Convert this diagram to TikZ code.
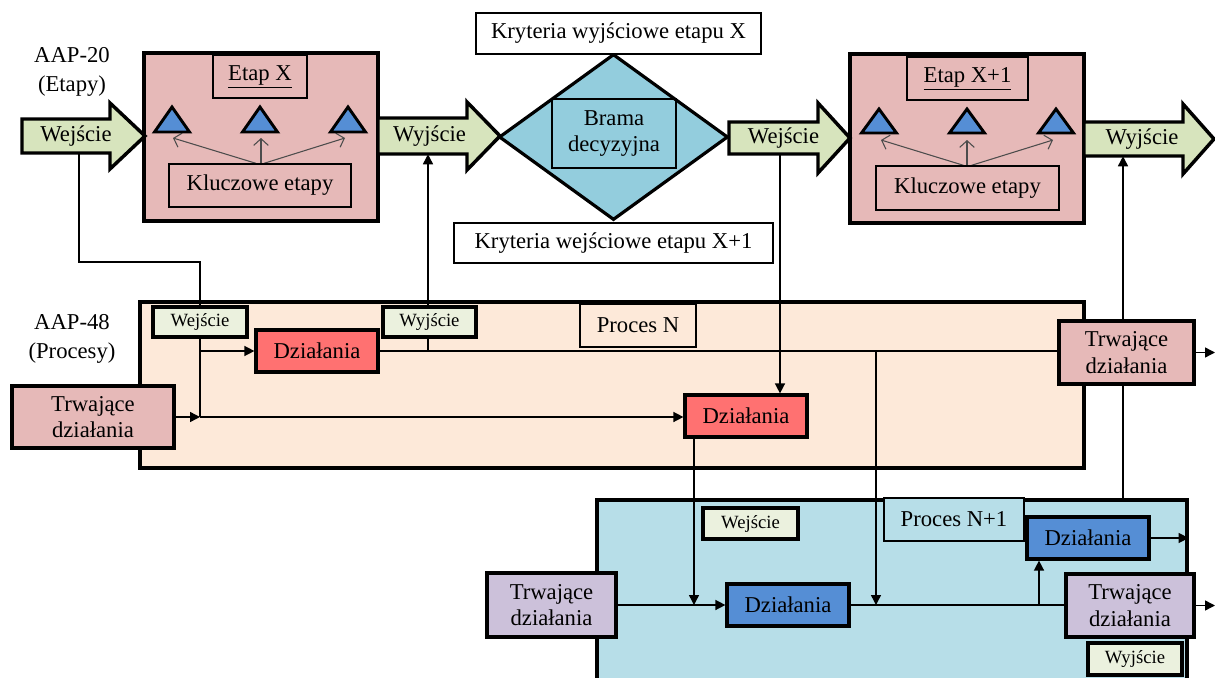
\documentclass[tikz,border=0pt]{standalone}
\usepackage{fontspec}
\setmainfont{Liberation Serif}
\usetikzlibrary{arrows.meta,shapes.geometric}
\pgfdeclarelayer{bg}
\pgfdeclarelayer{mid}
\pgfsetlayers{bg,mid,main}

\definecolor{argreen}{HTML}{D7E4BD}
\definecolor{stagepink}{HTML}{E6B9B8}
\definecolor{keyblue}{HTML}{558ED5}
\definecolor{gatecyan}{HTML}{93CDDD}
\definecolor{procpeach}{HTML}{FDE9D9}
\definecolor{tagcream}{HTML}{EBF1DE}
\definecolor{actred}{HTML}{FF7171}
\definecolor{procblue}{HTML}{B7DEE8}
\definecolor{lilac}{HTML}{CCC1DA}

\newcommand\bigtxt{\fontsize{17pt}{20pt}\selectfont}
\newcommand\smalltxt{\fontsize{14pt}{16pt}\selectfont}
\newcommand\sidetxt{\fontsize{17pt}{21.5pt}\selectfont}

% box given by its corners: style, name, x1, y1, x2, y2, text
\newcommand\bx[7]{\node[#1, minimum width={(#5-#3)*0.75pt}, minimum height={(#6-#4)*0.75pt}] (#2) at ({(#3+#5)/2},{(#4+#6)/2}) {#7};}
% wide block arrow: tail x, head start x, tip x, centre y, body half height, head half height
\newcommand\fatarrow[6]{\draw[fatarr] (#1,#4-#5) -- (#2,#4-#5) -- (#2,#4-#6) -- (#3,#4) -- (#2,#4+#6) -- (#2,#4+#5) -- (#1,#4+#5) -- cycle;}

\tikzset{
  box/.style={draw, line width=2.4pt, inner sep=0pt, align=center, font=\bigtxt},
  thinbox/.style={draw, line width=1pt, inner sep=0pt, align=center, font=\bigtxt},
  tag/.style={box, fill=tagcream, font=\smalltxt},
  fatarr/.style={draw, line width=2.6pt, fill=argreen},
  arrtext/.style={inner sep=0pt, font=\bigtxt},
  keytri/.style={draw, line width=2.2pt, fill=keyblue},
  conn/.style={line width=1.1pt},
  arr/.style={conn, -{Triangle[length=7.5pt,width=7.5pt]}},
  keyarr/.style={draw=black!70, line width=0.8pt, -{Straight Barb[length=5pt,width=11pt]}},
  sidelabel/.style={align=center, font=\sidetxt, inner sep=0pt}
}

\begin{document}
\begin{tikzpicture}[x=0.75pt, y=-0.75pt]
\useasboundingbox (0,0) rectangle (1215,678);

% ---------- containers ----------
\begin{pgfonlayer}{bg}
  \bx{box, fill=stagepink}{stX}{144}{53}{378}{221}{}
  \bx{box, fill=stagepink}{stY}{850}{54}{1084}{223}{}
  \bx{box, fill=procpeach}{prN}{140}{302}{1084}{468}{}
  \bx{box, fill=procblue}{prM}{597}{500}{1187}{720}{}
\end{pgfonlayer}

% ---------- stages (AAP-20) ----------
\node[sidelabel] (aap20) at (72,72) {AAP-20\\(Etapy)};

\fatarrow{22}{110}{145}{136}{17}{33}
\node[arrtext, minimum height=34*0.75pt] (inX) at (76,136) {Wejście};
\fatarrow{378}{467}{500}{136}{18}{34}
\node[arrtext, minimum height=36*0.75pt] (outX) at (429.5,136) {Wyjście};
\fatarrow{729}{818}{850}{138}{16}{35}
\node[arrtext, minimum height=32*0.75pt] (inY) at (783.5,138) {Wejście};
\fatarrow{1084}{1183}{1214}{139}{17}{35}
\node[arrtext, minimum height=34*0.75pt] (outY) at (1142,139) {Wyjście};

\bx{thinbox}{lblX}{213}{55}{307}{98}{\underline{Etap X}}
\bx{thinbox}{keyX}{169}{164}{351}{207}{Kluczowe etapy}
\foreach \c in {172,260,348}{\draw[keytri] (\c,107) -- (\c+17.5,132) -- (\c-17.5,132) -- cycle;}
\coordinate (kx1) at (173,138);
\coordinate (kx2) at (261,138);
\coordinate (kx3) at (345,138);

\bx{thinbox}{lblY}{907}{57}{1028}{100}{\underline{Etap X+1}}
\bx{thinbox}{keyY}{876}{166}{1059}{210}{Kluczowe etapy}
\foreach \c in {879,967,1056}{\draw[keytri] (\c,109) -- (\c+17.5,133) -- (\c-17.5,133) -- cycle;}
\coordinate (ky1) at (881,140);
\coordinate (ky2) at (967,140);
\coordinate (ky3) at (1053,140);

% decision gate
\node[diamond, draw, line width=2.4pt, fill=gatecyan, inner sep=0pt,
      minimum width=229*0.75pt, minimum height=166*0.75pt] (gate) at (613.5,137) {};
\bx{thinbox}{gateLbl}{552}{99}{676}{168}{Brama\\decyzyjna}
\bx{thinbox, fill=white}{exitCrit}{476}{13}{761}{54}{Kryteria wyjściowe etapu X}
\bx{thinbox, fill=white}{entryCrit}{454}{223}{773}{263}{Kryteria wejściowe etapu X+1}

% ---------- process N (AAP-48) ----------
\node[sidelabel] (aap48) at (72,339) {AAP-48\\(Procesy)};
\bx{tag}{inN}{153}{307}{247}{337}{Wejście}
\bx{tag}{outN}{383}{307}{476}{337}{Wyjście}
\bx{box, fill=actred}{actA}{256}{330}{378}{372}{Działania}
\bx{thinbox, fill=procpeach}{lblN}{580}{304}{696}{347}{Proces N}
\bx{box, fill=stagepink}{ongA}{12}{386}{174}{448}{Trwające\\działania}
\bx{box, fill=actred}{actB}{685}{395}{807}{437}{Działania}
\bx{box, fill=stagepink}{ongB}{1059}{321}{1194}{384}{Trwające\\działania}

% ---------- process N+1 ----------
\bx{tag}{inM}{703}{508}{798}{539}{Wejście}
\bx{thinbox, fill=procblue}{lblM}{884}{498}{1024}{541}{Proces N+1}
\bx{box, fill=lilac}{ongC}{487}{573}{616}{637}{Trwające\\działania}
\bx{box, fill=keyblue}{actC}{727}{584}{849}{626}{Działania}
\bx{box, fill=keyblue}{actD}{1027}{517}{1149}{559}{Działania}
\bx{box, fill=lilac}{ongD}{1066}{574}{1194}{637}{Trwające\\działania}
\bx{tag}{outM}{1088}{643}{1182}{675}{Wyjście}

% ---------- connectors ----------
\coordinate (bend) at (79,262);
\coordinate (jIn) at (200,417);
\coordinate (xC) at (428,0);
\coordinate (xD) at (780,0);
\coordinate (xE) at (876,0);
\coordinate (xF) at (1123,0);
\coordinate (xG) at (694,0);
\coordinate (xH) at (1039,0);
\coordinate (xR) at (1215,0);

\begin{pgfonlayer}{mid}
  \draw[keyarr] ([xshift=-3pt]keyX.north) -- (kx1);
  \draw[keyarr] (keyX.north -| kx2) -- (kx2);
  \draw[keyarr] ([xshift=3pt]keyX.north) -- (kx3);
  \draw[keyarr] ([xshift=-3pt]keyY.north) -- (ky1);
  \draw[keyarr] (keyY.north -| ky2) -- (ky2);
  \draw[keyarr] ([xshift=3pt]keyY.north) -- (ky3);

  \draw[conn] (inX.south -| bend) -- (bend) -| (jIn);
  \draw[arr] (ongA.east) -- (jIn);
  \draw[arr] (jIn) -- (jIn -| actB.west);
  \draw[arr] (jIn |- actA.west) -- (actA.west);
  \draw[conn] (actA.east) -- (actA.east -| ongB.west);
  \draw[arr] (xC |- actA.east) -- (xC |- outX.south);
  \draw[arr] (xD |- inY.south) -- (xD |- actB.north);
  \draw[arr] (xE |- actA.east) -- (xE |- actC.west);
  \draw[arr] (ongB.east) -- (ongB.east -| xR);
  \draw[arr] (prM.north -| xF) -- (xF |- outY.south);

  \draw[arr] (xG |- actB.south) -- (xG |- actC.west);
  \draw[arr] (ongC.east) -- (actC.west);
  \draw[conn] (actC.east) -- (actC.east -| ongD.west);
  \draw[arr] (xH |- actC.east) -- (xH |- actD.south);
  \draw[arr] (actD.east) -- (actD.east -| prM.east);
  \draw[arr] (ongD.east) -- (ongD.east -| xR);
\end{pgfonlayer}
\end{tikzpicture}
\end{document}
